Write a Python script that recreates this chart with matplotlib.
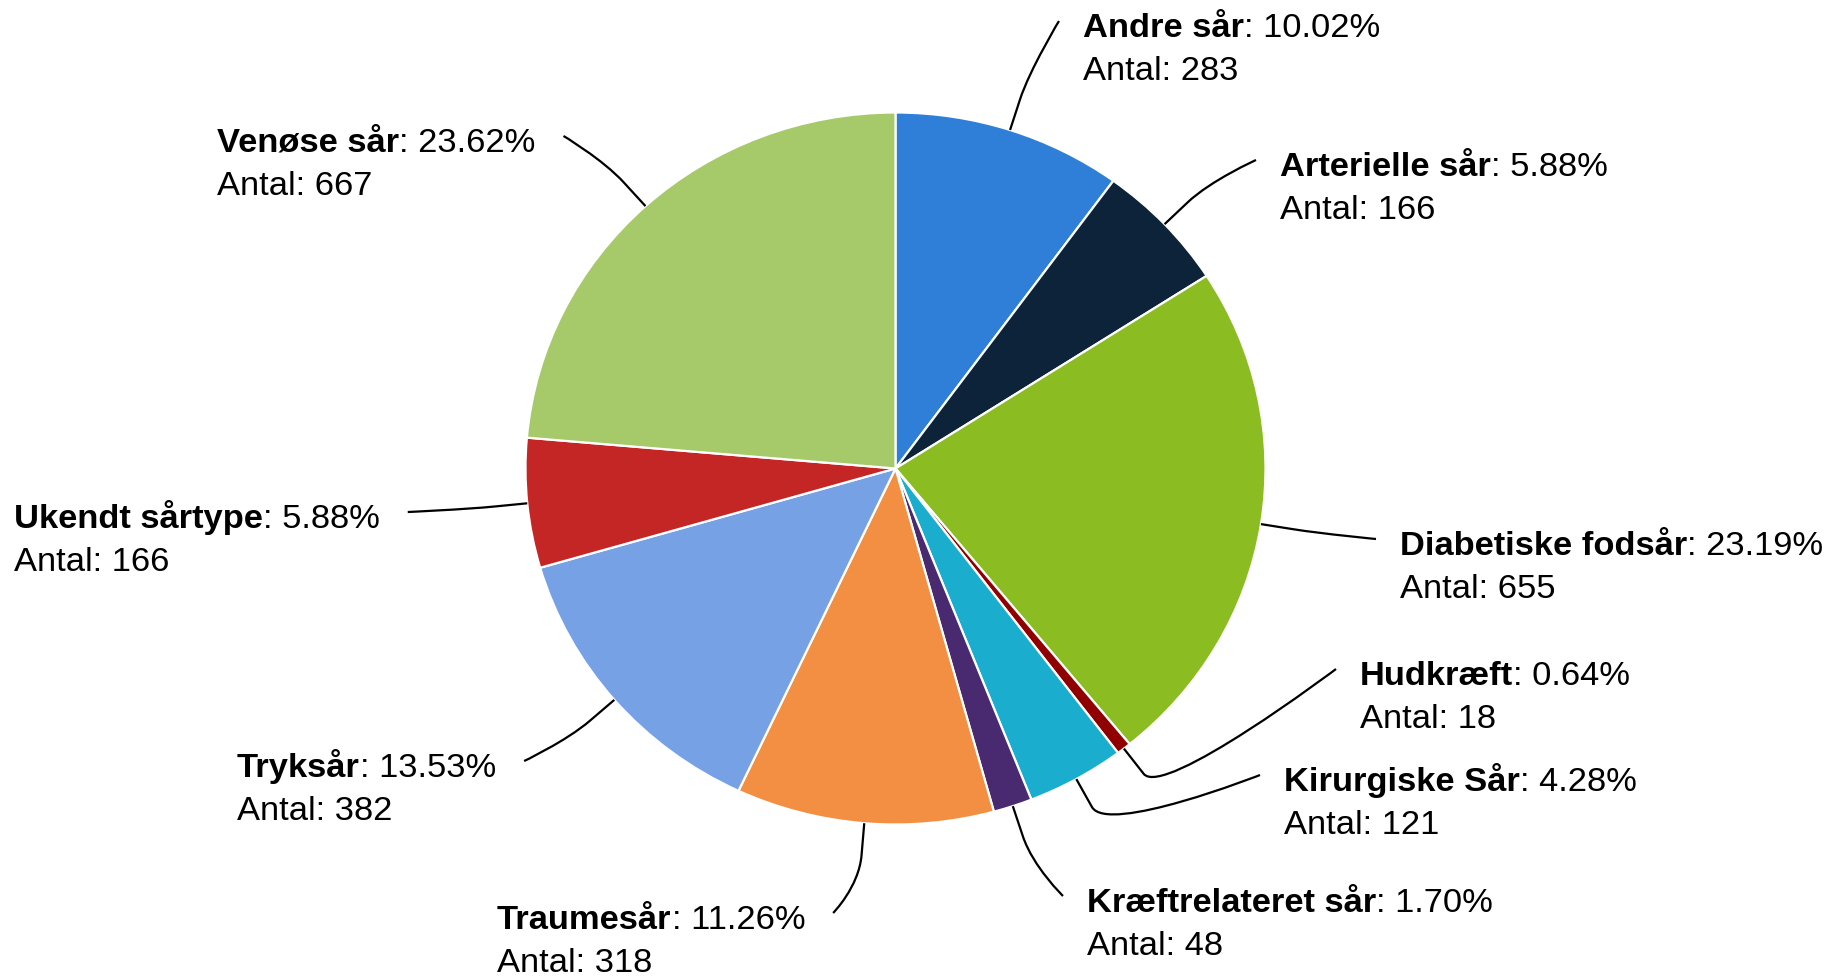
import numpy as np
import matplotlib.pyplot as plt
from matplotlib.path import Path
from matplotlib.patches import PathPatch

plt.rcParams['font.family'] = ['Liberation Sans', 'DejaVu Sans']

# data
names = ['Andre sår', 'Arterielle sår', 'Diabetiske fodsår', 'Hudkræft',
         'Kirurgiske Sår', 'Kræftrelateret sår', 'Traumesår', 'Tryksår',
         'Ukendt sårtype', 'Venøse sår']
counts = [283, 166, 655, 18, 121, 48, 318, 382, 166, 667]
colors = ['#2f7ed8', '#0d233a', '#8bbc21', '#910000', '#1aadce',
          '#492970', '#f28f43', '#77a1e5', '#c42525', '#a6c96a']

# label layout (pixels from top-left: left edge of text, baseline of first line)
label_x = [1083, 1280, 1400, 1360, 1284, 1087, 497, 237, 14, 217]
label_y = [37, 176, 555, 685, 791, 912, 929, 777, 528, 152]
label_side = ['r', 'r', 'r', 'r', 'r', 'r', 'l', 'l', 'l', 'l']

W, H = 1830, 979
cx, cy, rx, ry = 895.5, 469.5, 370, 356
FS = 24.8
LINE = 43

fig = plt.figure(figsize=(W / 100, H / 100), dpi=100)

pax = fig.add_axes([(cx - rx) / W, (H - cy - ry) / H, 2 * rx / W, 2 * ry / H])
pax.pie(counts, colors=colors, startangle=90, counterclock=False, radius=1,
        wedgeprops=dict(edgecolor='white', linewidth=1.6))
pax.set_aspect('auto')
pax.set_xlim(-1, 1)
pax.set_ylim(-1, 1)
pax.axis('off')

ax = fig.add_axes([0, 0, 1, 1])
ax.set_xlim(0, W)
ax.set_ylim(H, 0)
ax.axis('off')
ax.patch.set_visible(False)

renderer = fig.canvas.get_renderer()
total = sum(counts)
cum = np.cumsum([0] + counts[:-1])

for i, name in enumerate(names):
    x, yb = label_x[i], label_y[i]
    pct = counts[i] / total * 100
    t1 = ax.text(x, yb, name, fontsize=FS, fontweight='bold', ha='left', va='baseline')
    x2 = t1.get_window_extent(renderer).x1
    t2 = ax.text(x2, yb, f': {pct:.2f}%', fontsize=FS, ha='left', va='baseline')
    right = t2.get_window_extent(renderer).x1
    ax.text(x, yb + LINE, f'Antal: {counts[i]}', fontsize=FS, ha='left', va='baseline')

    # connector: straight out of the slice, then soft curve to the label
    theta = np.deg2rad((cum[i] + counts[i] / 2) / total * 360)
    s, c = np.sin(theta), np.cos(theta)
    edge = np.array([cx + rx * s, cy - ry * c])
    brk = np.array([cx + (rx + 32) * s, cy - (ry + 32) * c])
    ctrl = 2 * brk - edge
    ex = x - 24 if label_side[i] == 'r' else right + 28
    end = np.array([ex, yb - 15])
    path = Path([end, end, ctrl, brk, edge],
                [Path.MOVETO, Path.CURVE4, Path.CURVE4, Path.CURVE4, Path.LINETO])
    ax.add_patch(PathPatch(path, facecolor='none', edgecolor='black', lw=1.6))

fig.savefig('out.png', dpi=100)
